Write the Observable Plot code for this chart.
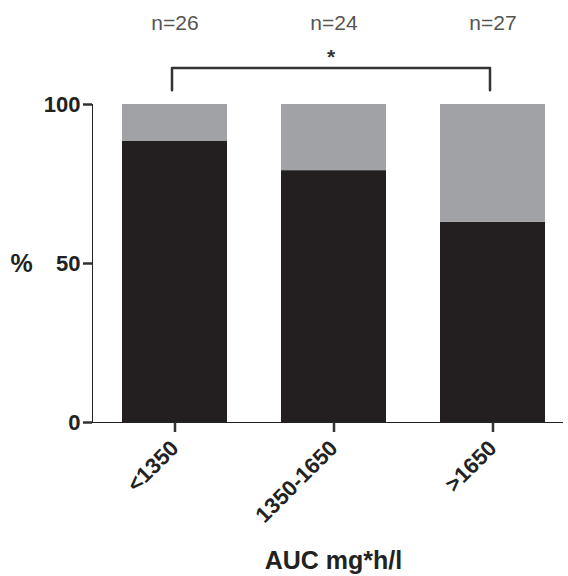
<!DOCTYPE html>
<html>
<head>
<meta charset="utf-8">
<script src="https://cdn.jsdelivr.net/npm/d3@7"></script>
<script src="https://cdn.jsdelivr.net/npm/@observablehq/plot@0.6"></script>
<style>
  html, body { margin: 0; padding: 0; background: #fff; }
  svg g[aria-label="y-axis tick"], svg g[aria-label="x-axis tick"] { stroke-width: 2.5px; stroke: #333; }
  svg g[aria-label="x-axis line"], svg g[aria-label="y-axis line"] { stroke-width: 2.5px; stroke: #333; }
</style>
</head>
<body>
<div id="chart"></div>
<script>
const groups = ["<1350", "1350-1650", ">1650"];
const counts = [26, 24, 27];
const blackPct = [88.5, 79.2, 63.0];
const grayPct = [11.5, 20.8, 37.0];
const yTicks = [0, 50, 100];
const bracketLow = 104.5;
const bracketHigh = 111.5;

const rows = [];
groups.forEach((g, i) => {
  rows.push({group: g, part: "lower", value: blackPct[i]});
  rows.push({group: g, part: "upper", value: grayPct[i]});
});
const nLabels = groups.map((g, i) => ({group: g, label: `n=${counts[i]}`}));
const bracket = [
  {group: groups[0], y: bracketLow},
  {group: groups[0], y: bracketHigh},
  {group: groups[2], y: bracketHigh},
  {group: groups[2], y: bracketLow}
];

const chart = Plot.plot({
  width: 568,
  height: 576,
  marginLeft: 92,
  marginRight: 6,
  marginTop: 104,
  marginBottom: 154,
  style: {fontFamily: "'Liberation Sans', Arial, sans-serif", fontSize: "22px", fontWeight: "bold", color: "#222", background: "#fff"},
  x: {domain: groups, paddingInner: 0.34, paddingOuter: 0.1415, align: 0.64, tickSize: 10, tickPadding: 12, tickRotate: -45, line: true, label: null},
  y: {domain: [0, 100], ticks: yTicks, tickSize: 9, tickPadding: 3, line: true, label: null},
  color: {domain: ["lower", "upper"], range: ["#231f20", "#a1a2a6"]},
  marks: [
    Plot.barY(rows, {x: "group", y: "value", fill: "part", inset: 0}),
    Plot.line(bracket, {x: "group", y: "y", stroke: "#333", strokeWidth: 2.5, dx: -3}),
    Plot.text([groups[1]], {x: d => d, y: [bracketHigh], text: ["*"], lineAnchor: "middle", dx: -3, dy: -11, fontSize: 21, fontWeight: "bold", fill: "#333"}),
    Plot.text(nLabels, {x: "group", text: "label", frameAnchor: "top", lineAnchor: "middle", dy: -81, fontSize: 21, fontWeight: "normal", fill: "#555"}),
    Plot.text(["%"], {frameAnchor: "left", textAnchor: "middle", dx: -71, fontSize: 25, fontWeight: "bold", fill: "#222"}),
    Plot.text(["AUC mg*h/l"], {frameAnchor: "bottom", dx: 6, dy: 138, lineAnchor: "middle", fontSize: 25, fontWeight: "bold", fill: "#222"})
  ]
});
document.getElementById("chart").appendChild(chart);
</script>
</body>
</html>
